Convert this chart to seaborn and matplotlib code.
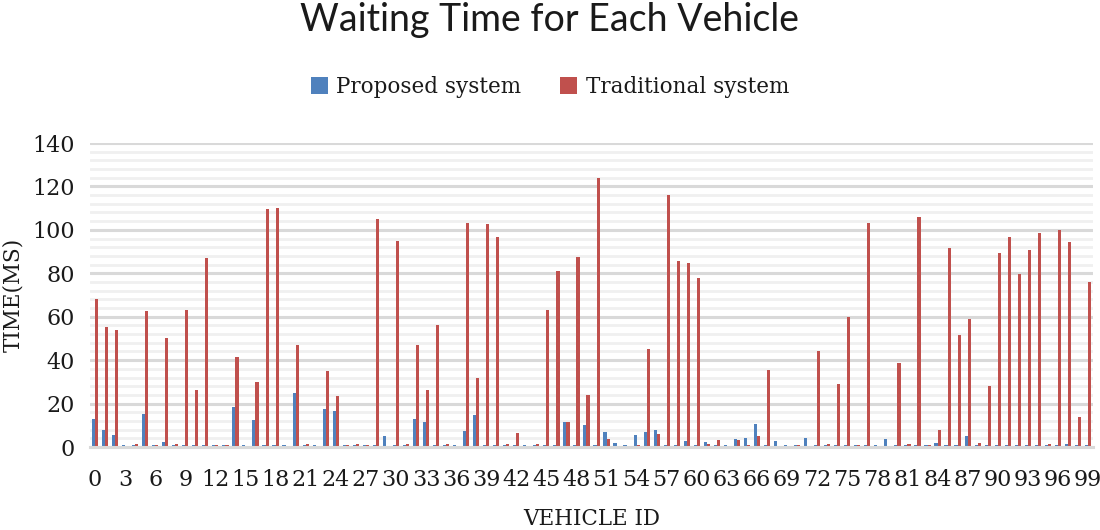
import pandas as pd
import seaborn as sns
import matplotlib.pyplot as plt
from matplotlib.ticker import MultipleLocator

# waiting time per vehicle (ms)
vehicle_ids = list(range(100))
proposed = [
    13.0, 7.8, 5.5, 1, 1, 15.0, 1, 2.3, 1, 1,
    1, 1, 1, 1, 18.6, 1, 12.4, 1, 1, 1,
    24.7, 1, 1, 17.5, 16.6, 1, 1, 1, 1, 4.9,
    1, 1, 13.0, 11.5, 1, 1, 1, 7.5, 14.7, 1,
    1, 1, 1, 1, 1, 1, 1, 11.4, 1, 10.1,
    1, 6.9, 1.7, 1, 5.4, 6.9, 7.8, 1, 1, 2.9,
    1, 2.3, 1, 1, 3.7, 4.0, 10.6, 1, 2.8, 1,
    1, 4.0, 1, 1, 1, 1, 1, 1, 1, 3.6,
    1, 1, 1, 1, 2.0, 1, 1, 4.9, 1, 1,
    1, 1, 1, 1, 1, 1, 1, 1.5, 1, 1,
]
traditional = [
    68.0, 55.4, 53.7, 0.5, 1.4, 62.6, 0.8, 50.0, 1.4, 63.0,
    26.3, 87.0, 0.8, 1.0, 41.3, 0, 30.0, 109.6, 110.0, 0,
    47.0, 1.2, 0, 35.2, 23.5, 1.0, 1.2, 1.0, 104.8, 0,
    94.9, 1.4, 47.0, 26.3, 56.2, 1.2, 0.5, 103.2, 31.8, 102.7,
    96.6, 1.4, 6.3, 0, 1.4, 63.1, 81.0, 11.4, 87.5, 24.0,
    123.9, 3.7, 0, 0.5, 0.8, 45.1, 6.0, 116.0, 85.8, 84.6,
    77.7, 1.2, 3.2, 0, 3.2, 1.0, 5.1, 35.5, 0.5, 0,
    1.0, 0, 44.4, 1.4, 28.9, 60.0, 1.0, 103.2, 0, 0,
    38.8, 1.4, 105.8, 1.0, 7.8, 91.5, 51.6, 58.8, 1.7, 28.2,
    89.3, 96.9, 79.8, 90.9, 98.6, 1.4, 99.8, 94.3, 13.8, 75.8,
]
series_names = ['Proposed system', 'Traditional system']
series_colors = ['#4f81bd', '#c0504d']

df = pd.DataFrame({
    'vehicle': vehicle_ids * 2,
    'system': [series_names[0]] * 100 + [series_names[1]] * 100,
    'time': proposed + traditional,
})

sns.set_theme(style="white")
plt.rcParams['font.family'] = ['DejaVu Serif', 'Liberation Serif']
txt = '#1a1a1a'

fig = plt.figure(figsize=(11, 5.3), dpi=100)
ax = fig.add_axes([90 / 1100, 1 - 447 / 530, 1003 / 1100, 304 / 530])

sns.barplot(data=df, x='vehicle', y='time', hue='system', order=vehicle_ids,
            hue_order=series_names, palette=series_colors, width=0.62,
            saturation=1, linewidth=0, ax=ax, legend=True)

ax.set_ylim(0, 140)
ax.set_xlim(-0.5, 99.5)
ax.yaxis.set_major_locator(MultipleLocator(20))
ax.yaxis.set_minor_locator(MultipleLocator(4))
ax.grid(which='minor', axis='y', color='#f0f0f0', linewidth=2, zorder=0)
ax.grid(which='major', axis='y', color='#d9d9d9', linewidth=2.2, zorder=0)
ax.set_axisbelow(True)
for s in ['top', 'right', 'left']:
    ax.spines[s].set_visible(False)
ax.spines['bottom'].set_color('#d9d9d9')
ax.spines['bottom'].set_linewidth(2.2)

ax.set_xticks(vehicle_ids[::3])
ax.set_xticklabels([str(v) for v in vehicle_ids[::3]], fontsize=16, color=txt)
ax.tick_params(axis='y', labelsize=16, labelcolor=txt, length=0, pad=11)
ax.tick_params(axis='x', length=0, pad=16)
ax.tick_params(which='minor', length=0)

ax.set_xlabel('VEHICLE ID', fontsize=15.5, color=txt, labelpad=12)
ax.set_ylabel('TIME(MS)', fontsize=15.5, color=txt, labelpad=6)

fig.suptitle('Waiting Time for Each Vehicle', y=0.997, fontsize=27,
             family=['Lato', 'DejaVu Sans'], color=txt)

ax.legend(loc='center', bbox_to_anchor=(0.5, 1 - 87 / 530), bbox_transform=fig.transFigure,
          ncol=2, frameon=False, fontsize=15.5, handlelength=0.8, handleheight=0.8,
          handletextpad=0.4, columnspacing=1.8, labelcolor=txt)

fig.savefig('out.png', dpi=100)
